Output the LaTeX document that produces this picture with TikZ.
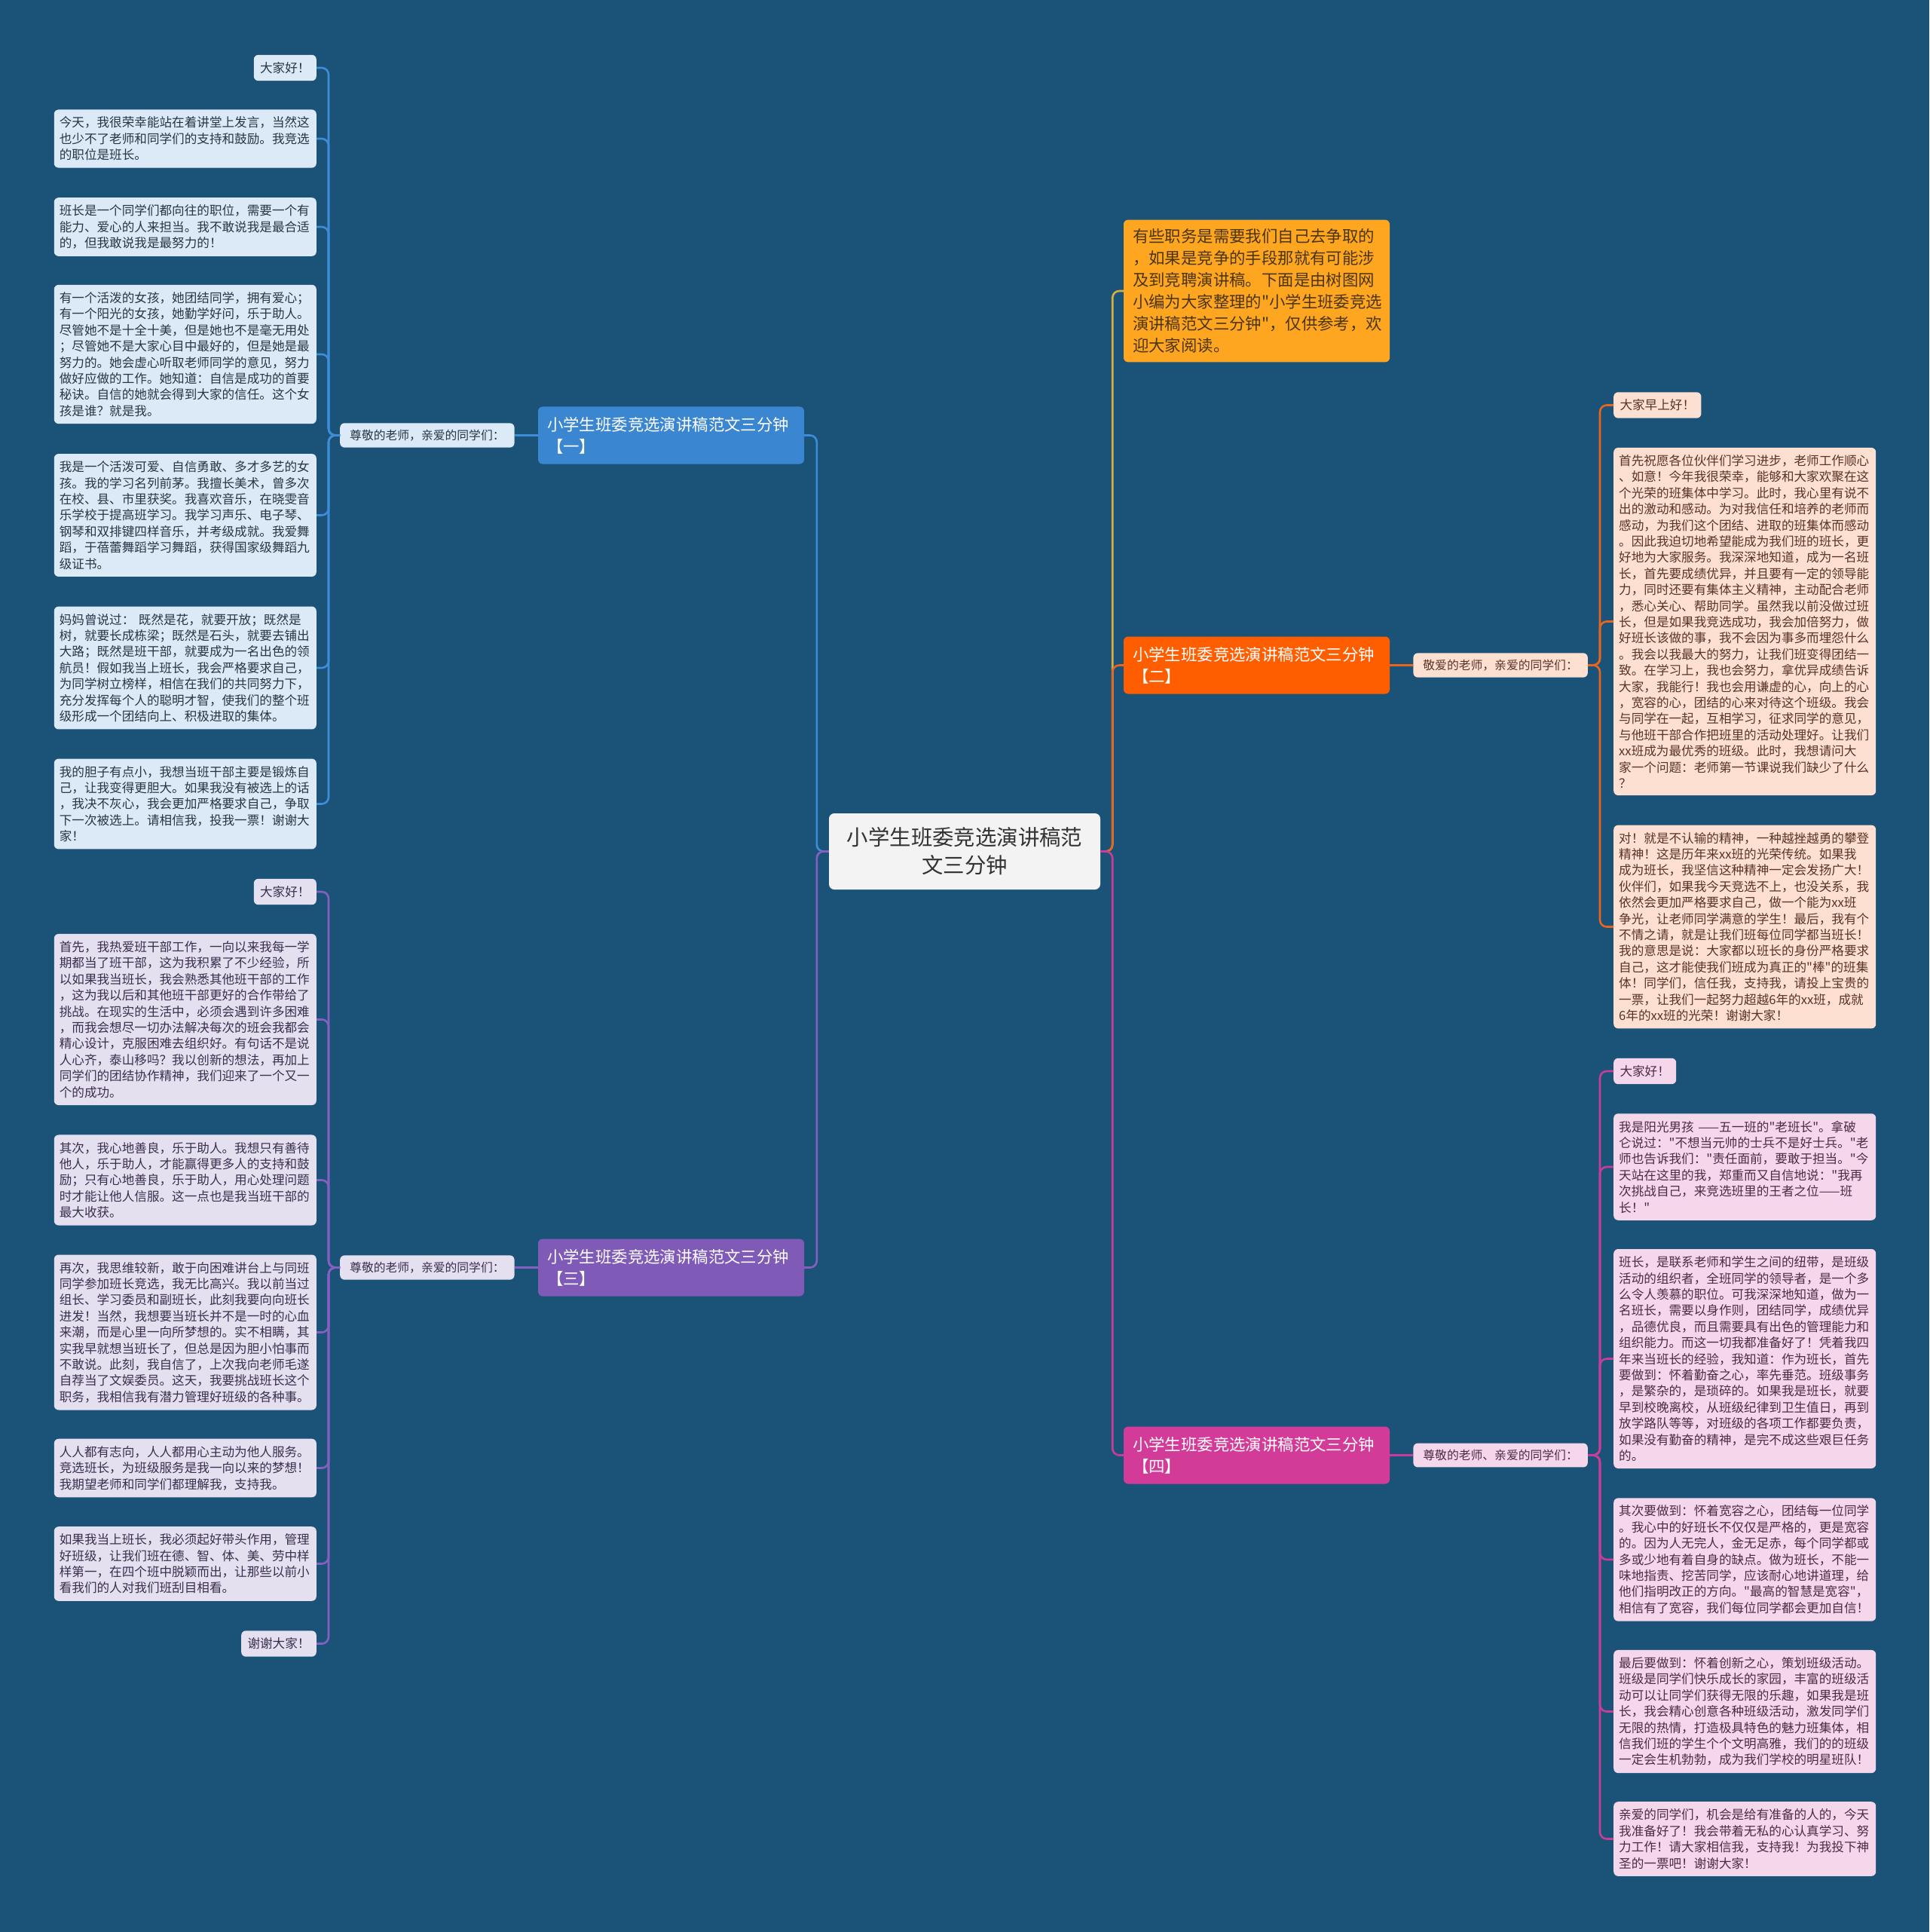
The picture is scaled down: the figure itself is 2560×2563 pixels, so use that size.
\documentclass[tikz,border=0pt]{standalone}
\usepackage{fontspec}
\setmainfont{Noto Sans CJK SC}[Ligatures=TeXOff]
\usepackage{tikz}
\usetikzlibrary{positioning}
\setlength{\parindent}{0pt}

\definecolor{bgblue}{HTML}{1B5378}
\definecolor{rootfill}{HTML}{F3F3F3}
\definecolor{roottext}{HTML}{333333}
\definecolor{introfill}{HTML}{FFA620}
\definecolor{introtext}{HTML}{4A3510}
\definecolor{introline}{HTML}{D8AE3E}
\definecolor{bluebr}{HTML}{3A86D0}
\definecolor{blueleaf}{HTML}{DCE9F6}
\definecolor{bluetext}{HTML}{263646}
\definecolor{blueline}{HTML}{3E8DD8}
\definecolor{purplebr}{HTML}{7F5AB6}
\definecolor{purpleleaf}{HTML}{E5E0F0}
\definecolor{purpletext}{HTML}{3A2E4D}
\definecolor{purpleline}{HTML}{8560C0}
\definecolor{orangebr}{HTML}{FF5E00}
\definecolor{orangeleaf}{HTML}{FDE0D1}
\definecolor{orangetext}{HTML}{5A3324}
\definecolor{orangeline}{HTML}{E8651E}
\definecolor{pinkbr}{HTML}{D23B98}
\definecolor{pinkleaf}{HTML}{F4D7EB}
\definecolor{pinktext}{HTML}{4D2A44}
\definecolor{pinkline}{HTML}{C83D98}

\begin{document}
\begin{tikzpicture}[
    x=1pt, y=-1pt,
    leaf/.style={rounded corners=6pt, align=left, text width=334pt, inner xsep=7pt, inner ysep=9.5pt, font=\fontsize{16.6pt}{21.4pt}\selectfont},
    leafshort/.style={rounded corners=6pt, inner xsep=8.3pt, inner ysep=9.5pt, font=\fontsize{16.6pt}{21.4pt}\selectfont},
    greet/.style={rounded corners=6pt, inner xsep=13pt, inner ysep=8.6pt, font=\fontsize{15.8pt}{19pt}\selectfont},
    branch/.style={rounded corners=6pt, align=left, text width=329pt, inner xsep=12pt, inner ysep=13.5pt, text=white, font=\fontsize{21.4pt}{29pt}\selectfont},
    conn/.style={line width=2.6pt, rounded corners=9pt}
]
\useasboundingbox (0,0) rectangle (2560,2563);
\fill[bgblue] (0,0) rectangle (2560,2563);

% Root
\node[fill=rootfill, text=roottext, rounded corners=7pt, align=center, minimum width=360pt, minimum height=101pt, font=\fontsize{28.4pt}{37pt}\selectfont] (root) at (1280,1129.5) {小学生班委竞选演讲稿范\\文三分钟};

% Intro
\node[branch, fill=introfill, text=introtext, inner ysep=12pt] (intro) at (1667.5,386) {有些职务是需要我们自己去争取的\\，如果是竞争的手段那就有可能涉\\及到竞聘演讲稿。下面是由树图网\\小编为大家整理的"小学生班委竞选\\演讲稿范文三分钟"，仅供参考，欢\\迎大家阅读。};

% Branch 1 (blue)
\node[branch, fill=bluebr] (b1) at (890.5,577.5) {小学生班委竞选演讲稿范文三分钟\\【一】};
\node[greet, fill=blueleaf, text=bluetext, left=31pt of b1] (g1) {尊敬的老师，亲爱的同学们：};

\node[leafshort, fill=blueleaf, text=bluetext, anchor=east] (l1a) at (420,90) {大家好！};
\node[leaf, fill=blueleaf, text=bluetext, anchor=east] (l1b) at (420,184) {今天，我很荣幸能站在着讲堂上发言，当然这\\也少不了老师和同学们的支持和鼓励。我竞选\\的职位是班长。};
\node[leaf, fill=blueleaf, text=bluetext, anchor=east] (l1c) at (420,301) {班长是一个同学们都向往的职位，需要一个有\\能力、爱心的人来担当。我不敢说我是最合适\\的，但我敢说我是最努力的！};
\node[leaf, fill=blueleaf, text=bluetext, anchor=east] (l1d) at (420,470) {有一个活泼的女孩，她团结同学，拥有爱心；\\有一个阳光的女孩，她勤学好问，乐于助人。\\尽管她不是十全十美，但是她也不是毫无用处\\；尽管她不是大家心目中最好的，但是她是最\\努力的。她会虚心听取老师同学的意见，努力\\做好应做的工作。她知道：自信是成功的首要\\秘诀。自信的她就会得到大家的信任。这个女\\孩是谁？就是我。};
\node[leaf, fill=blueleaf, text=bluetext, anchor=east] (l1e) at (420,683.5) {我是一个活泼可爱、自信勇敢、多才多艺的女\\孩。我的学习名列前茅。我擅长美术，曾多次\\在校、县、市里获奖。我喜欢音乐，在晓雯音\\乐学校于提高班学习。我学习声乐、电子琴、\\钢琴和双排键四样音乐，并考级成就。我爱舞\\蹈，于蓓蕾舞蹈学习舞蹈，获得国家级舞蹈九\\级证书。};
\node[leaf, fill=blueleaf, text=bluetext, anchor=east] (l1f) at (420,886) {妈妈曾说过：~既然是花，就要开放；既然是\\树，就要长成栋梁；既然是石头，就要去铺出\\大路；既然是班干部，就要成为一名出色的领\\航员！假如我当上班长，我会严格要求自己，\\为同学树立榜样，相信在我们的共同努力下，\\充分发挥每个人的聪明才智，使我们的整个班\\级形成一个团结向上、积极进取的集体。};
\node[leaf, fill=blueleaf, text=bluetext, anchor=east] (l1g) at (420,1066.5) {我的胆子有点小，我想当班干部主要是锻炼自\\己，让我变得更胆大。如果我没有被选上的话\\，我决不灰心，我会更加严格要求自己，争取\\下一次被选上。请相信我，投我一票！谢谢大\\家！};

% Branch 3 (purple)
\node[branch, fill=purplebr] (b3) at (890.5,1681.5) {小学生班委竞选演讲稿范文三分钟\\【三】};
\node[greet, fill=purpleleaf, text=purpletext, left=31pt of b3] (g3) {尊敬的老师，亲爱的同学们：};

\node[leafshort, fill=purpleleaf, text=purpletext, anchor=east] (l3a) at (420,1183) {大家好！};
\node[leaf, fill=purpleleaf, text=purpletext, anchor=east] (l3b) at (420,1352.5) {首先，我热爱班干部工作，一向以来我每一学\\期都当了班干部，这为我积累了不少经验，所\\以如果我当班长，我会熟悉其他班干部的工作\\，这为我以后和其他班干部更好的合作带给了\\挑战。在现实的生活中，必须会遇到许多困难\\，而我会想尽一切办法解决每次的班会我都会\\精心设计，克服困难去组织好。有句话不是说\\人心齐，泰山移吗？我以创新的想法，再加上\\同学们的团结协作精神，我们迎来了一个又一\\个的成功。};
\node[leaf, fill=purpleleaf, text=purpletext, anchor=east] (l3c) at (420,1565.5) {其次，我心地善良，乐于助人。我想只有善待\\他人，乐于助人，才能赢得更多人的支持和鼓\\励；只有心地善良，乐于助人，用心处理问题\\时才能让他人信服。这一点也是我当班干部的\\最大收获。};
\node[leaf, fill=purpleleaf, text=purpletext, anchor=east] (l3d) at (420,1767.5) {再次，我思维较新，敢于向困难讲台上与同班\\同学参加班长竞选，我无比高兴。我以前当过\\组长、学习委员和副班长，此刻我要向向班长\\进发！当然，我想要当班长并不是一时的心血\\来潮，而是心里一向所梦想的。实不相瞒，其\\实我早就想当班长了，但总是因为胆小怕事而\\不敢说。此刻，我自信了，上次我向老师毛遂\\自荐当了文娱委员。这天，我要挑战班长这个\\职务，我相信我有潜力管理好班级的各种事。};
\node[leaf, fill=purpleleaf, text=purpletext, anchor=east] (l3e) at (420,1947.5) {人人都有志向，人人都用心主动为他人服务。\\竞选班长，为班级服务是我一向以来的梦想！\\我期望老师和同学们都理解我，支持我。};
\node[leaf, fill=purpleleaf, text=purpletext, anchor=east] (l3f) at (420,2074.5) {如果我当上班长，我必须起好带头作用，管理\\好班级，让我们班在德、智、体、美、劳中样\\样第一，在四个班中脱颖而出，让那些以前小\\看我们的人对我们班刮目相看。};
\node[leafshort, fill=purpleleaf, text=purpletext, anchor=east] (l3g) at (420,2180.5) {谢谢大家！};

% Branch 2 (orange)
\node[branch, fill=orangebr] (b2) at (1667.5,882.5) {小学生班委竞选演讲稿范文三分钟\\【二】};
\node[greet, fill=orangeleaf, text=orangetext, right=31pt of b2] (g2) {敬爱的老师，亲爱的同学们：};

\node[leafshort, fill=orangeleaf, text=orangetext, anchor=west] (l2a) at (2141,537.5) {大家早上好！};
\node[leaf, fill=orangeleaf, text=orangetext, anchor=west] (l2b) at (2141,824.5) {首先祝愿各位伙伴们学习进步，老师工作顺心\\、如意！今年我很荣幸，能够和大家欢聚在这\\个光荣的班集体中学习。此时，我心里有说不\\出的激动和感动。为对我信任和培养的老师而\\感动，为我们这个团结、进取的班集体而感动\\。因此我迫切地希望能成为我们班的班长，更\\好地为大家服务。我深深地知道，成为一名班\\长，首先要成绩优异，并且要有一定的领导能\\力，同时还要有集体主义精神，主动配合老师\\，悉心关心、帮助同学。虽然我以前没做过班\\长，但是如果我竞选成功，我会加倍努力，做\\好班长该做的事，我不会因为事多而埋怨什么\\。我会以我最大的努力，让我们班变得团结一\\致。在学习上，我也会努力，拿优异成绩告诉\\大家，我能行！我也会用谦虚的心，向上的心\\，宽容的心，团结的心来对待这个班级。我会\\与同学在一起，互相学习，征求同学的意见，\\与他班干部合作把班里的活动处理好。让我们\\xx班成为最优秀的班级。此时，我想请问大\\家一个问题：老师第一节课说我们缺少了什么\\？};
\node[leaf, fill=orangeleaf, text=orangetext, anchor=west] (l2c) at (2141,1229.5) {对！就是不认输的精神，一种越挫越勇的攀登\\精神！这是历年来xx班的光荣传统。如果我\\成为班长，我坚信这种精神一定会发扬广大！\\伙伴们，如果我今天竞选不上，也没关系，我\\依然会更加严格要求自己，做一个能为xx班\\争光，让老师同学满意的学生！最后，我有个\\不情之请，就是让我们班每位同学都当班长！\\我的意思是说：大家都以班长的身份严格要求\\自己，这才能使我们班成为真正的"棒"的班集\\体！同学们，信任我，支持我，请投上宝贵的\\一票，让我们一起努力超越6年的xx班，成就\\6年的xx班的光荣！谢谢大家！};

% Branch 4 (pink)
\node[branch, fill=pinkbr] (b4) at (1667.5,1930.5) {小学生班委竞选演讲稿范文三分钟\\【四】};
\node[greet, fill=pinkleaf, text=pinktext, right=31pt of b4] (g4) {尊敬的老师、亲爱的同学们：};

\node[leafshort, fill=pinkleaf, text=pinktext, anchor=west] (l4a) at (2141,1421) {大家好！};
\node[leaf, fill=pinkleaf, text=pinktext, anchor=west] (l4b) at (2141,1548) {我是阳光男孩~——五一班的"老班长"。拿破\\仑说过："不想当元帅的士兵不是好士兵。"老\\师也告诉我们："责任面前，要敢于担当。"今\\天站在这里的我，郑重而又自信地说："我再\\次挑战自己，来竞选班里的王者之位——班\\长！"};
\node[leaf, fill=pinkleaf, text=pinktext, anchor=west] (l4c) at (2141,1802.5) {班长，是联系老师和学生之间的纽带，是班级\\活动的组织者，全班同学的领导者，是一个多\\么令人羡慕的职位。可我深深地知道，做为一\\名班长，需要以身作则，团结同学，成绩优异\\，品德优良，而且需要具有出色的管理能力和\\组织能力。而这一切我都准备好了！凭着我四\\年来当班长的经验，我知道：作为班长，首先\\要做到：怀着勤奋之心，率先垂范。班级事务\\，是繁杂的，是琐碎的。如果我是班长，就要\\早到校晚离校，从班级纪律到卫生值日，再到\\放学路队等等，对班级的各项工作都要负责，\\如果没有勤奋的精神，是完不成这些艰巨任务\\的。};
\node[leaf, fill=pinkleaf, text=pinktext, anchor=west] (l4d) at (2141,2069) {其次要做到：怀着宽容之心，团结每一位同学\\。我心中的好班长不仅仅是严格的，更是宽容\\的。因为人无完人，金无足赤，每个同学都或\\多或少地有着自身的缺点。做为班长，不能一\\味地指责、挖苦同学，应该耐心地讲道理，给\\他们指明改正的方向。"最高的智慧是宽容"，\\相信有了宽容，我们每位同学都会更加自信！};
\node[leaf, fill=pinkleaf, text=pinktext, anchor=west] (l4e) at (2141,2270.5) {最后要做到：怀着创新之心，策划班级活动。\\班级是同学们快乐成长的家园，丰富的班级活\\动可以让同学们获得无限的乐趣，如果我是班\\长，我会精心创意各种班级活动，激发同学们\\无限的热情，打造极具特色的魅力班集体，相\\信我们班的学生个个文明高雅，我们的的班级\\一定会生机勃勃，成为我们学校的明星班队！};
\node[leaf, fill=pinkleaf, text=pinktext, anchor=west] (l4f) at (2141,2439.5) {亲爱的同学们，机会是给有准备的人的，今天\\我准备好了！我会带着无私的心认真学习、努\\力工作！请大家相信我，支持我！为我投下神\\圣的一票吧！谢谢大家！};

% Connectors root -> branches
\draw[conn, introline] (root.east) -- ++(16,0) |- (intro.west);
\draw[conn, orangeline] (root.east) -- ++(16,0) |- (b2.west);
\draw[conn, pinkline] (root.east) -- ++(16,0) |- (b4.west);
\draw[conn, blueline] (root.west) -- ++(-16,0) |- (b1.east);
\draw[conn, purpleline] (root.west) -- ++(-16,0) |- (b3.east);

% Connectors branches -> greetings
\draw[conn, blueline] (b1.west) -- (g1.east);
\draw[conn, purpleline] (b3.west) -- (g3.east);
\draw[conn, orangeline] (b2.east) -- (g2.west);
\draw[conn, pinkline] (b4.east) -- (g4.west);

% Connectors greetings -> leaves
\draw[conn, blueline] (g1.west) -- ++(-15,0) |- (l1a.east);
\draw[conn, blueline] (g1.west) -- ++(-15,0) |- (l1b.east);
\draw[conn, blueline] (g1.west) -- ++(-15,0) |- (l1c.east);
\draw[conn, blueline] (g1.west) -- ++(-15,0) |- (l1d.east);
\draw[conn, blueline] (g1.west) -- ++(-15,0) |- (l1e.east);
\draw[conn, blueline] (g1.west) -- ++(-15,0) |- (l1f.east);
\draw[conn, blueline] (g1.west) -- ++(-15,0) |- (l1g.east);

\draw[conn, purpleline] (g3.west) -- ++(-15,0) |- (l3a.east);
\draw[conn, purpleline] (g3.west) -- ++(-15,0) |- (l3b.east);
\draw[conn, purpleline] (g3.west) -- ++(-15,0) |- (l3c.east);
\draw[conn, purpleline] (g3.west) -- ++(-15,0) |- (l3d.east);
\draw[conn, purpleline] (g3.west) -- ++(-15,0) |- (l3e.east);
\draw[conn, purpleline] (g3.west) -- ++(-15,0) |- (l3f.east);
\draw[conn, purpleline] (g3.west) -- ++(-15,0) |- (l3g.east);

\draw[conn, orangeline] (g2.east) -- ++(16,0) |- (l2a.west);
\draw[conn, orangeline] (g2.east) -- ++(16,0) |- (l2b.west);
\draw[conn, orangeline] (g2.east) -- ++(16,0) |- (l2c.west);

\draw[conn, pinkline] (g4.east) -- ++(16,0) |- (l4a.west);
\draw[conn, pinkline] (g4.east) -- ++(16,0) |- (l4b.west);
\draw[conn, pinkline] (g4.east) -- ++(16,0) |- (l4c.west);
\draw[conn, pinkline] (g4.east) -- ++(16,0) |- (l4d.west);
\draw[conn, pinkline] (g4.east) -- ++(16,0) |- (l4e.west);
\draw[conn, pinkline] (g4.east) -- ++(16,0) |- (l4f.west);

\end{tikzpicture}
\end{document}
